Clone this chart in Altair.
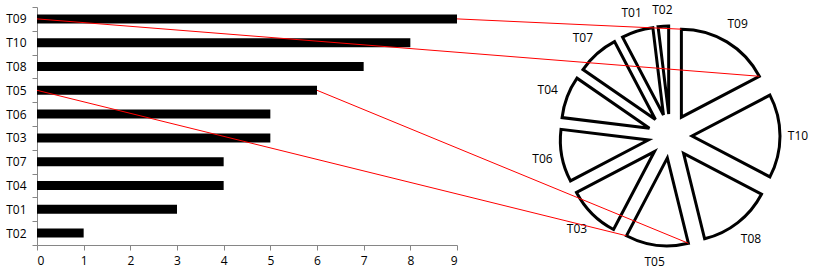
import altair as alt
import pandas as pd
import math

# ---- data ----
categories = ["T09", "T10", "T08", "T05", "T06", "T03", "T07", "T04", "T01", "T02"]
values = [9, 8, 7, 6, 5, 5, 4, 4, 3, 1]
pie_order = ["T09", "T10", "T08", "T05", "T03", "T06", "T04", "T07", "T01", "T02"]
highlight = ["T09", "T05"]
x_ticks = [0, 1, 2, 3, 4, 5, 6, 7, 8, 9]

df = pd.DataFrame({
    "cat": categories,
    "val": values,
    "bar_rank": list(range(len(categories))),
    "pie_rank": [pie_order.index(c) for c in categories],
})

# ---- layout ----
PAD_L, PAD_T, PAD_R, PAD_B = 37, 7, 0, 31
W, H = 834 - PAD_L - PAD_R, 276 - PAD_T - PAD_B
BAR_W = 420
XMAX = 9
STEP = H / len(categories)
CX, CY = 633, 129   # pie centre (plot coordinates)
R = 88              # pie radius
EXP = 22            # explosion distance
GRAY = "#868686"
FONT = "Open Sans"

PX = alt.Scale(domain=[0, W], range=[0, W])
PY = alt.Scale(domain=[0, H], range=[0, H])
ANG = alt.Scale(domain=[0, 2 * math.pi], range=[0, 2 * math.pi])
XS = alt.Scale(domain=[0, XMAX], range=[0, BAR_W], nice=False)

bars = alt.Chart(df).mark_bar(color="black", size=9).encode(
    y=alt.Y("cat:N", sort=categories,
            scale=alt.Scale(paddingInner=0, paddingOuter=0),
            axis=alt.Axis(title=None, tickBand="extent", domainColor=GRAY, tickColor=GRAY,
                          tickSize=5, labelPadding=6, labelFont=FONT, labelFontSize=12,
                          labelColor="black", grid=False)),
    x=alt.X("val:Q", scale=XS,
            axis=alt.Axis(title=None, values=x_ticks, domainColor=GRAY, tickColor=GRAY,
                          tickSize=5, labelPadding=5, labelFont=FONT, labelFontSize=12,
                          labelColor="black", grid=False, format="d")),
)

pie_base = alt.Chart(df).transform_window(
    cum="sum(val)", sort=[alt.SortField("pie_rank")], frame=[None, 0]
).transform_joinaggregate(
    total="sum(val)"
).transform_calculate(
    a0="(datum.cum - datum.val) / datum.total * 2 * PI",
    a1="datum.cum / datum.total * 2 * PI",
).transform_calculate(
    am="(datum.a0 + datum.a1) / 2",
).transform_calculate(
    lr="116 + 12 * abs(sin(datum.am)) + 10 * abs(cos(datum.am))",
    cx=f"{CX} + {EXP} * sin(datum.am)",
    cy=f"{CY} - {EXP} * cos(datum.am)",
).transform_calculate(
    lx=f"{CX} + datum.lr * sin(datum.am)",
    ly=f"{CY} - datum.lr * cos(datum.am)",
)

arcs = pie_base.mark_arc(radius=R, fill="white", stroke="black", strokeWidth=3,
                         strokeJoin="miter").encode(
    x=alt.X("cx:Q", scale=PX, axis=None),
    y=alt.Y("cy:Q", scale=PY, axis=None),
    theta=alt.Theta("a0:Q", scale=ANG, stack=None),
    theta2="a1:Q",
)

labels = pie_base.mark_text(font=FONT, fontSize=12, color="black",
                            align="center", baseline="middle").encode(
    x=alt.X("lx:Q", scale=PX, axis=None),
    y=alt.Y("ly:Q", scale=PY, axis=None),
    text="cat:N",
)

conn_base = pie_base.transform_filter(
    alt.FieldOneOfPredicate(field="cat", oneOf=highlight)
).transform_calculate(
    by=f"(datum.bar_rank + 0.5) * {STEP}",
    bx=f"datum.val / {XMAX} * {BAR_W}",
    zx="0",
    sx=f"datum.cx + {R} * sin(datum.a0)",
    sy=f"datum.cy - {R} * cos(datum.a0)",
    ex=f"datum.cx + {R} * sin(datum.a1)",
    ey=f"datum.cy - {R} * cos(datum.a1)",
)

conn1 = conn_base.mark_rule(color="red", strokeWidth=1).encode(
    x=alt.X("bx:Q", scale=PX, axis=None),
    y=alt.Y("by:Q", scale=PY, axis=None),
    x2="sx:Q",
    y2="sy:Q",
)
conn2 = conn_base.mark_rule(color="red", strokeWidth=1).encode(
    x=alt.X("zx:Q", scale=PX, axis=None),
    y=alt.Y("by:Q", scale=PY, axis=None),
    x2="ex:Q",
    y2="ey:Q",
)

chart = alt.layer(bars, arcs, labels, conn1, conn2).resolve_scale(
    x="independent", y="independent"
).properties(
    width=W, height=H,
    background="white",
    autosize=alt.AutoSizeParams(type="none"),
    padding={"left": PAD_L, "top": PAD_T, "right": PAD_R, "bottom": PAD_B},
).configure_view(stroke=None)

chart.save("out.html", embed_options={"renderer": "svg", "actions": False})
